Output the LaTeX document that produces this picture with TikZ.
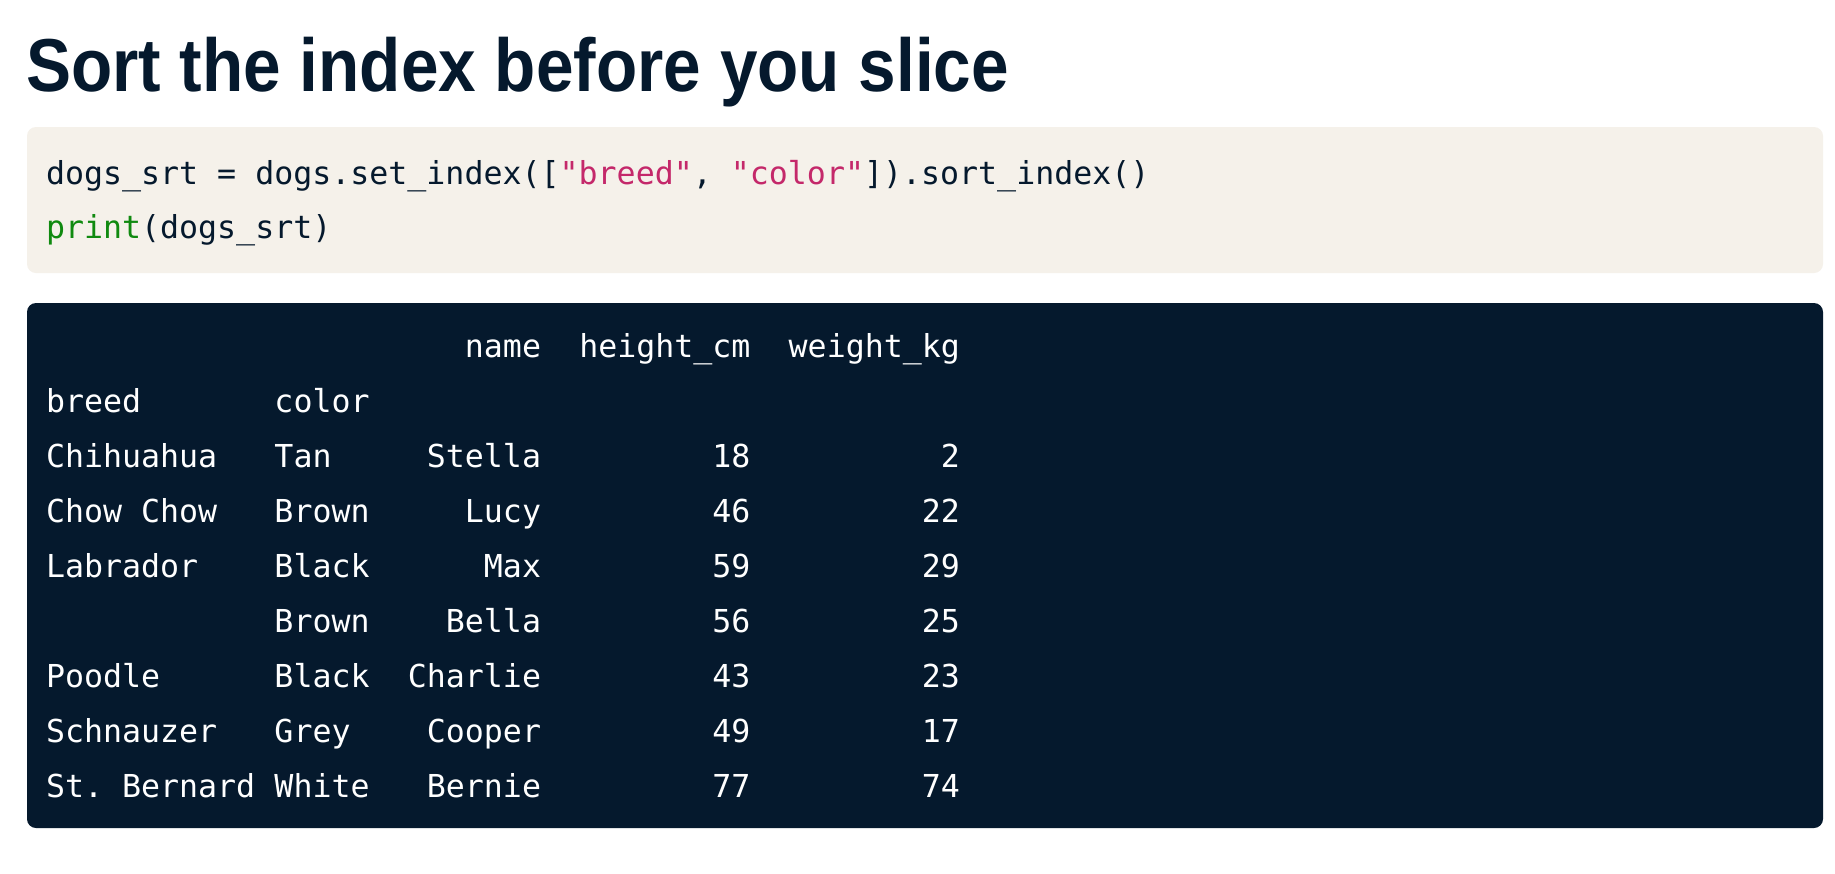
\documentclass[tikz,border=0pt]{standalone}
\usepackage{fontspec}
\setmainfont{Liberation Sans}
\newfontfamily\codefont{DejaVu Sans Mono}
\newfontfamily\titlefont{Liberation Sans}
\definecolor{navy}{HTML}{05192D}
\definecolor{beige}{HTML}{F5F1EA}
\definecolor{strc}{HTML}{C4286A}
\definecolor{kwc}{HTML}{108A10}
\newcommand\dq{\char"22\relax}
\frenchspacing
\tikzset{
  codetxt/.style={inner sep=0pt, outer sep=0pt, font=\codefont\fontsize{31.6}{38}\selectfont, text=navy},
  outtxt/.style={inner sep=0pt, outer sep=0pt, font=\codefont\fontsize{31.6}{38}\selectfont, text=white},
  lcell/.style={outtxt, anchor=base west},
  rcell/.style={outtxt, anchor=base east}
}
\begin{document}
\begin{tikzpicture}[x=1pt,y=-1pt]
\useasboundingbox (0,0) rectangle (1835,873);
\fill[white] (0,0) rectangle (1835,873);
% title
\node[inner sep=0pt, anchor=base west, text=navy, font=\titlefont\bfseries\fontsize{75}{90}\selectfont] (title) at (26,91) {\scalebox{0.9}[1]{Sort the index before you slice}};
% code box
\fill[beige, rounded corners=9pt] (27,127) rectangle (1823,273);
\node[codetxt, anchor=base west] (code1) at (46,184) {dogs\_srt = dogs.set\_index([{\color{strc}\dq breed\dq}, {\color{strc}\dq color\dq}]).sort\_index()};
\node[codetxt, anchor=base west] (code2) at (46,238) {{\color{kwc}print}(dogs\_srt)};
% output box
\fill[navy, rounded corners=9pt] (27,303) rectangle (1823,828);
\def\cw{19.04}
\def\xa{46}
% header
\node[rcell] (hname) at ({\xa+26*\cw},357.8) {name};
\node[rcell] (hheight) at ({\xa+37*\cw},357.8) {height\_cm};
\node[rcell] (hweight) at ({\xa+48*\cw},357.8) {weight\_kg};
\node[lcell] (hbreed) at (\xa,412.7) {breed};
\node[lcell] (hcolor) at ({\xa+12*\cw},412.7) {color};
% rows
\foreach \i/\b/\c/\n/\h/\w in {
  0/Chihuahua/Tan/Stella/18/2,
  1/Chow Chow/Brown/Lucy/46/22,
  2/Labrador/Black/Max/59/29,
  3//Brown/Bella/56/25,
  4/Poodle/Black/Charlie/43/23,
  5/Schnauzer/Grey/Cooper/49/17,
  6/St. Bernard/White/Bernie/77/74}{
  \pgfmathsetmacro\yy{467.6+\i*54.9}
  \node[lcell] (breed\i) at (\xa,\yy) {\b};
  \node[lcell] (color\i) at ({\xa+12*\cw},\yy) {\c};
  \node[rcell] (name\i) at ({\xa+26*\cw},\yy) {\n};
  \node[rcell] (height\i) at ({\xa+37*\cw},\yy) {\h};
  \node[rcell] (weight\i) at ({\xa+48*\cw},\yy) {\w};
}
\end{tikzpicture}
\end{document}
